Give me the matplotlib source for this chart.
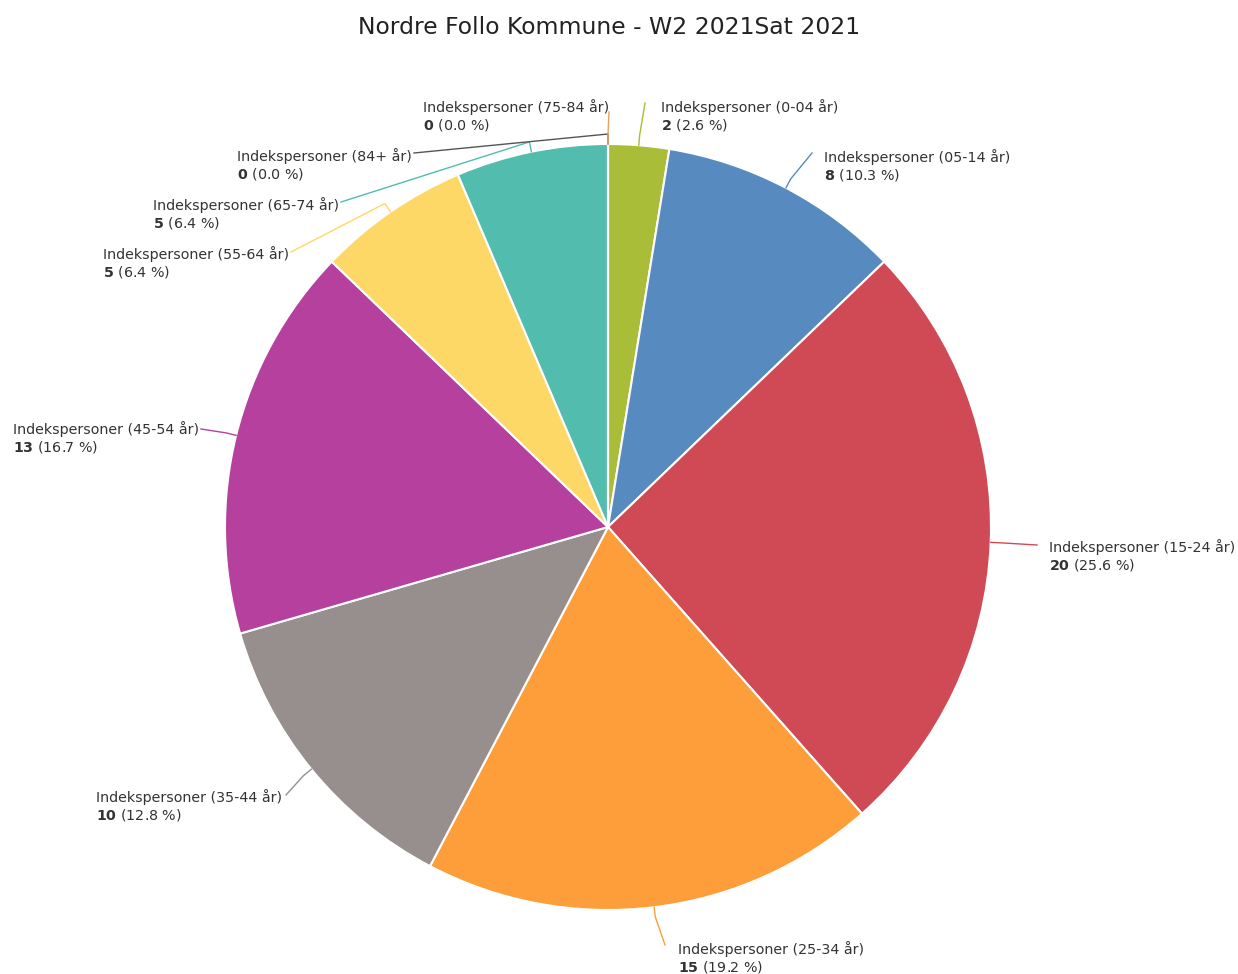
import matplotlib.pyplot as plt
import numpy as np

# data
groups = ['0-04', '05-14', '15-24', '25-34', '35-44', '45-54', '55-64', '65-74', '84+', '75-84']
counts = [2, 8, 20, 15, 10, 13, 5, 5, 0, 0]
colors = ['#a9bd38', '#578bbf', '#d04a55', '#fd9e3a', '#978f8e',
          '#b5409d', '#fed866', '#52bcae', '#555555', '#e8a060']
title = 'Nordre Follo Kommune - W2 2021Sat 2021'

# label layout in pixels (from top-left): text left x, first line y, leader end
text_pos = [(661, 107), (824, 157), (1049, 547), (678, 949), (96, 797),
            (13, 429), (103, 254), (153, 205), (237, 156), (423, 107)]
line_end = [(645, 103), (812, 153), (1037, 545), (665, 945), (286, 795),
            (201, 429), (291, 252), (341, 202), (414, 153), (609, 112)]

plt.rcParams['mathtext.fontset'] = 'dejavusans'

W, H = 1238, 974
cx, cy, R = 608, H - 527, 383

fig = plt.figure(figsize=(W / 100, H / 100), dpi=100)
ax = fig.add_axes([0, 0, 1, 1])

ax.pie(counts, colors=colors, startangle=90, counterclock=False,
       center=(cx, cy), radius=R,
       wedgeprops=dict(edgecolor='white', linewidth=1.5))
ax.set_xlim(0, W)
ax.set_ylim(0, H)
ax.set_aspect('equal')
ax.axis('off')

total = sum(counts)
cum = 0
for i in range(len(groups)):
    mid = (cum + counts[i] / 2) / total * 2 * np.pi
    cum += counts[i]
    sx, sy = np.sin(mid), np.cos(mid)
    p0 = (cx + R * sx, cy + R * sy)
    p1 = (cx + (R + 10) * sx, cy + (R + 10) * sy)
    ex, ey = line_end[i]
    ax.plot([p0[0], p1[0], ex], [p0[1], p1[1], H - ey], color=colors[i], lw=1)

    tx, ty = text_pos[i]
    ax.text(tx, H - ty, 'Indekspersoner (%s år)' % groups[i], fontsize=10.3,
            color='#333333', ha='left', va='center')
    pct = counts[i] / total * 100
    ax.text(tx, H - ty - 18, r'$\mathbf{%d}$ (%.1f %%)' % (counts[i], pct), fontsize=10.3,
            color='#333333', ha='left', va='center')

fig.text(609 / W, 1 - 27 / H, title, fontsize=16.9, color='#222222', ha='center', va='center')

fig.savefig('out.png', dpi=100)
